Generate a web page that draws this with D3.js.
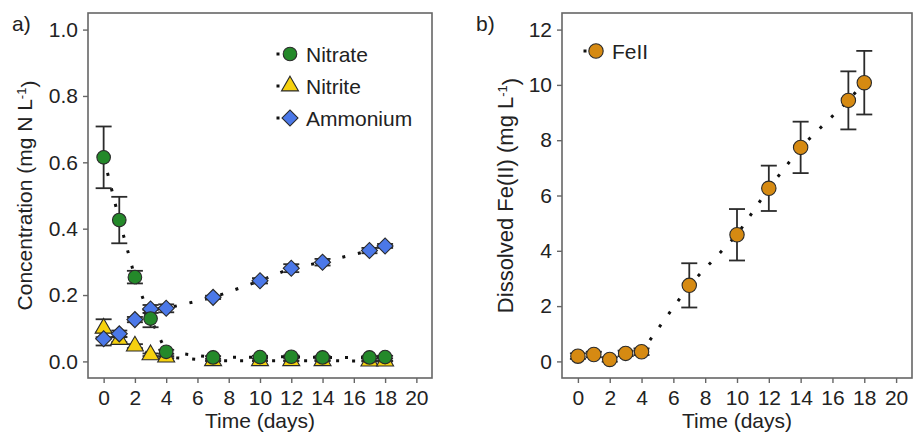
<!DOCTYPE html>
<html><head><meta charset="utf-8">
<script src="https://cdn.jsdelivr.net/npm/d3@7"></script>
<style>
body{margin:0;background:#fff;}
svg text{font-family:"Liberation Sans",Arial,sans-serif;fill:#222;}
</style></head>
<body><svg id="c" width="913" height="435"></svg>
<script>
// ---- data ----
const days = [0, 1, 2, 3, 4, 7, 10, 12, 14, 17, 18];
const nitrate      = [0.615, 0.426, 0.254, 0.129, 0.029, 0.012, 0.013, 0.014, 0.012, 0.012, 0.013];
const nitrateErr   = [0.093, 0.070, 0.019, 0.026, 0.006, 0.004, 0.004, 0.004, 0.004, 0.004, 0.004];
const nitrite      = [0.100, 0.066, 0.046, 0.020, 0.013, 0.002, 0.002, 0.002, 0.002, 0.001, 0.001];
const nitriteErr   = [0.027, 0.008, 0.006, 0.004, 0.003, 0.001, 0.001, 0.001, 0.001, 0.001, 0.001];
const ammonium     = [0.068, 0.083, 0.126, 0.158, 0.160, 0.193, 0.243, 0.281, 0.299, 0.334, 0.348];
const ammoniumErr  = [0.020, 0.010, 0.008, 0.012, 0.012, 0.005, 0.008, 0.012, 0.010, 0.008, 0.006];
const feII         = [0.19, 0.25, 0.07, 0.29, 0.35, 2.75, 4.58, 6.26, 7.74, 9.44, 10.08];
const feIIErr      = [0.10, 0.10, 0.08, 0.10, 0.12, 0.80, 0.93, 0.82, 0.93, 1.05, 1.15];
const xTicks = [0, 2, 4, 6, 8, 10, 12, 14, 16, 18, 20];
const yTicksA = [0.0, 0.2, 0.4, 0.6, 0.8, 1.0];
const yTicksB = [0, 2, 4, 6, 8, 10, 12];
const seriesA = [
  {name: "Nitrate", values: nitrate, err: nitrateErr, color: "#24892a", shape: "circle"},
  {name: "Nitrite", values: nitrite, err: nitriteErr, color: "#f6d10f", shape: "triangle"},
  {name: "Ammonium", values: ammonium, err: ammoniumErr, color: "#4b78e8", shape: "diamond"}
];
const seriesB = [{name: "FeII", values: feII, err: feIIErr, color: "#d68a12", shape: "circleB"}];

const svg = d3.select("#c");
const FS = 21;

function symPath(shape){
  if(shape === "circle") return d3.symbol(d3.symbolCircle, Math.PI*6.8*6.8)();
  if(shape === "circleB") return d3.symbol(d3.symbolCircle, Math.PI*7.2*7.2)();
  if(shape === "triangle") return d3.symbol(d3.symbolTriangle, 125)();
  if(shape === "diamond") return d3.symbol(d3.symbolSquare, 128)();
}
function drawMarker(g, shape, color, x, y){
  const p = g.append("path").attr("d", symPath(shape))
    .attr("fill", color).attr("stroke", "#2a2a2a").attr("stroke-width", 1.1);
  if(shape === "diamond") p.attr("transform", `translate(${x},${y}) rotate(45)`);
  else p.attr("transform", `translate(${x},${y})`);
}

function panel(opts){
  const {x0, x1, y0, y1, yDomain, yTicks, yFmt, series, label, labelX, ytitleX, ytitle, ytitleFS} = opts;
  const x = d3.scaleLinear().domain([-1, 21]).range([x0, x1]);
  const y = d3.scaleLinear().domain(yDomain).range([y1, y0]);
  const g = svg.append("g");

  // axes
  const xa = g.append("g").attr("transform", `translate(0,${y1})`)
    .call(d3.axisBottom(x).tickValues(xTicks).tickSize(5).tickPadding(7).tickFormat(d3.format("d")));
  const ya = g.append("g").attr("transform", `translate(${x0},0)`)
    .call(d3.axisLeft(y).tickValues(yTicks).tickSize(5).tickPadding(5).tickFormat(yFmt));
  [xa, ya].forEach(a => {
    a.select(".domain").remove();
    a.selectAll("line").attr("stroke", "#666").attr("stroke-width", 1.4);
    a.selectAll("text").style("font-size", FS + "px").attr("fill", "#222");
  });
  // box
  g.append("rect").attr("x", x0).attr("y", y0).attr("width", x1 - x0).attr("height", y1 - y0)
    .attr("fill", "none").attr("stroke", "#666").attr("stroke-width", 1.6);

  // dotted lines
  const line = d3.line().x((d, i) => x(days[i])).y(d => y(d));
  series.forEach(s => {
    g.append("path").attr("d", line(s.values)).attr("fill", "none")
      .attr("stroke", "#111").attr("stroke-width", 3).attr("stroke-dasharray", "3,13");
  });
  // error bars
  series.forEach(s => {
    s.values.forEach((v, i) => {
      const cx = x(days[i]), lo = y(v - s.err[i]), hi = y(v + s.err[i]);
      const eg = g.append("g").attr("stroke", "#2b2b2b").attr("stroke-width", 1.8);
      eg.append("line").attr("x1", cx).attr("x2", cx).attr("y1", lo).attr("y2", hi);
      eg.append("line").attr("x1", cx - 8).attr("x2", cx + 8).attr("y1", lo).attr("y2", lo);
      eg.append("line").attr("x1", cx - 8).attr("x2", cx + 8).attr("y1", hi).attr("y2", hi);
    });
  });
  // markers (nitrite below circles/diamonds)
  const order = series.length > 1 ? [1, 2, 0] : [0];
  order.forEach(k => {
    const s = series[k];
    s.values.forEach((v, i) => drawMarker(g, s.shape, s.color, x(days[i]), y(v)));
  });

  // titles
  g.append("text").attr("x", (x0 + x1) / 2).attr("y", 428).attr("text-anchor", "middle")
    .style("font-size", FS + "px").text("Time (days)");
  const yt = g.append("text").attr("text-anchor", "middle")
    .attr("transform", `translate(${ytitleX},${(y0 + y1) / 2}) rotate(-90)`)
    .style("font-size", ytitleFS + "px");
  yt.append("tspan").text(ytitle);
  yt.append("tspan").attr("dy", "-0.5em").style("font-size", "13px").text("-1");
  yt.append("tspan").attr("dy", "0.5em").text(")");
  g.append("text").attr("x", labelX).attr("y", 31).style("font-size", FS + "px").text(label);
  return {x, y, g};
}

const A = panel({x0: 88, x1: 432, y0: 13, y1: 378, yDomain: [-0.05, 1.05], yTicks: yTicksA,
  yFmt: d3.format(".1f"), series: seriesA, label: "a)", labelX: 12, ytitleX: 32, ytitleFS: 21,
  ytitle: "Concentration (mg N L"});
const B = panel({x0: 562, x1: 912, y0: 13, y1: 378, yDomain: [-0.6, 12.6], yTicks: yTicksB,
  yFmt: d3.format("d"), series: seriesB, label: "b)", labelX: 476, ytitleX: 513, ytitleFS: 22,
  ytitle: "Dissolved Fe(II) (mg L"});

// legends
function legend(g, items, dotX, mX, tX, ys){
  items.forEach((s, i) => {
    g.append("rect").attr("x", dotX - 1.5).attr("y", ys[i] - 1.5).attr("width", 3).attr("height", 3).attr("fill", "#111");
    drawMarker(g, s.shape, s.color, mX, ys[i]);
    g.append("text").attr("x", tX).attr("y", ys[i]).attr("dy", "0.36em")
      .style("font-size", FS + "px").text(s.name);
  });
}
legend(A.g, seriesA, 278, 290, 306, [54, 86, 118]);
legend(B.g, seriesB, 585, 596, 612, [51]);
</script></body></html>
